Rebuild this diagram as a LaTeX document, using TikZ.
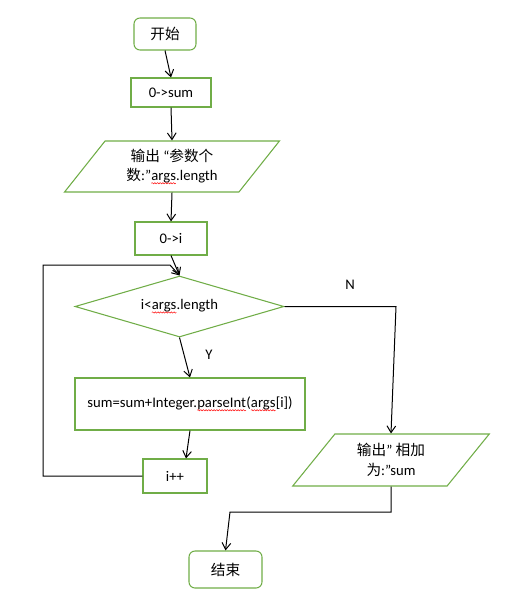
\documentclass[tikz,border=0pt]{standalone}
\usepackage{fontspec}
\setmainfont{Carlito}
\newfontfamily\cjk{Noto Sans CJK SC}
\usetikzlibrary{shapes.geometric,arrows.meta,decorations.pathmorphing}
\definecolor{boxgreen}{HTML}{70AD47}
\newcommand\redwave[1]{\tikz[baseline=(w.base)]{\node[shape=rectangle, draw=none, inner sep=0pt, outer sep=0pt, minimum width=0pt, minimum height=0pt] (w) {#1};
	\draw[red, line width=0.35pt, decorate, decoration={snake, amplitude=0.5pt, segment length=2pt}] ([yshift=-2pt]w.base west) -- ([yshift=-2pt]w.base east);}}
\tikzset{
	flow/.style={draw=boxgreen, line width=0.8pt, font=\fontsize{11}{14.5}\selectfont, align=center, inner sep=0pt},
	proc/.style={flow, rectangle},
	term/.style={flow, rectangle, rounded corners=4.5pt},
	io/.style={flow, trapezium, trapezium left angle=52, trapezium right angle=128, trapezium stretches=true},
	test/.style={flow, diamond, aspect=3.4},
	line/.style={draw=black, line width=0.75pt, -{Straight Barb[length=5pt,width=6.5pt]}},
	tag/.style={font=\fontsize{11}{13}\selectfont, inner sep=0pt},
}
\begin{document}
\begin{tikzpicture}[x=0.75pt, y=-0.75pt]
	\useasboundingbox (0,0) rectangle (529,600);
	% boxes
	\node[term, minimum width=46.5pt, minimum height=24pt] (start) at (165,34) {{\cjk 开始}};
	\node[proc, minimum width=60pt, minimum height=21.75pt] (sum0) at (171,92.5) {0->sum};
	\node[io, minimum width=161.25pt, minimum height=38.25pt] (out1) at (172,166.5) {{\cjk 输出} “{\cjk 参数个}\\{\cjk 数}:”\redwave{args}.length};
	\node[proc, minimum width=54pt, minimum height=24.75pt] (i0) at (171,238.5) {0->i};
	\node[test, minimum width=156.75pt, minimum height=45.75pt] (cond) at (179.5,306.5) {i<\redwave{args}.length};
	\node[proc, minimum width=172.5pt, minimum height=39pt] (body) at (190,404) {sum=sum+Integer.\redwave{parseInt}(\redwave{args}[i])};
	\node[proc, minimum width=48pt, minimum height=25.5pt] (inc) at (175,476) {i++};
	\node[io, minimum width=148.5pt, minimum height=39pt] (out2) at (391,460) {{\cjk 输出}” {\cjk 相加}\\{\cjk 为}:”sum};
	\node[term, minimum width=54.75pt, minimum height=27.75pt] (stop) at (225.5,569.5) {{\cjk 结束}};
	\node[tag] (no) at (350,285) {N};
	\node[tag] (yes) at (209,355) {Y};
	% bends
	\coordinate (back) at (43,265);
	\coordinate (join) at (170,265);
	\coordinate (turn) at (396,306.5);
	\coordinate (merge) at (230,512);
	% connectors
	\draw[line] (start.south) -- (sum0.north);
	\draw[line] (sum0.south) -- (out1.north);
	\draw[line] (out1.south) -- (i0.north);
	\draw[line] (i0.south) -- (cond.north);
	\draw[line] (cond.south) -- (body.north);
	\draw[line] (body.south) -- ([xshift=8.25pt]inc.north);
	\draw[line] (inc.west) -| (back) -- (join) -- (cond.north);
	\draw[line] (cond.east) -- (turn) -- (out2.north);
	\draw[line] (out2.south) |- (merge) -- (stop.north);
\end{tikzpicture}
\end{document}
